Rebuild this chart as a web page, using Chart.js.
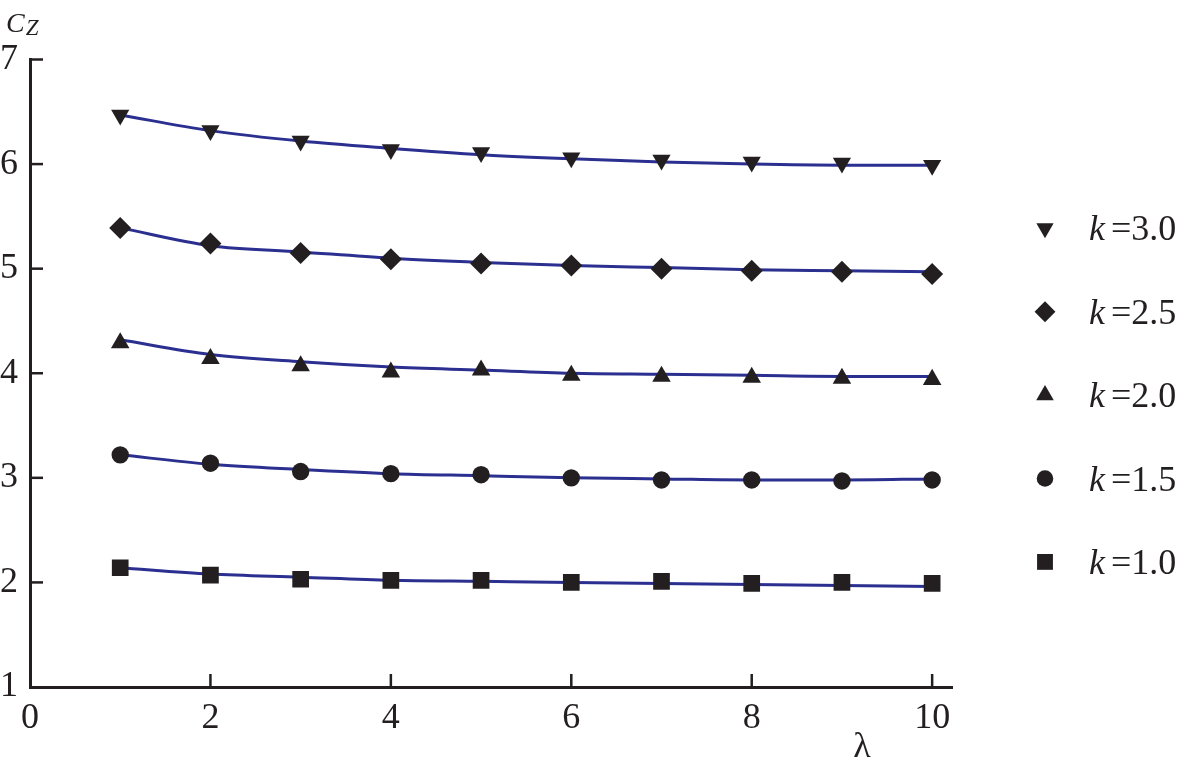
<!DOCTYPE html>
<html>
<head>
<meta charset="utf-8">
<script src="https://cdn.jsdelivr.net/npm/chart.js@4.4.0/dist/chart.umd.min.js"></script>
<style>
html,body{margin:0;padding:0;background:#fff;}
#wrap{position:relative;width:1190px;height:763px;}
</style>
</head>
<body>
<div id="wrap"><canvas id="c" width="1190" height="763"></canvas></div>
<script>
// ---- data ----
const lambdaValues = [1, 2, 3, 4, 5, 6, 7, 8, 9, 10];
const xTickValues = [0, 2, 4, 6, 8, 10];
const yTickValues = [1, 2, 3, 4, 5, 6, 7];
const kLabels = ['3.0', '2.5', '2.0', '1.5', '1.0'];

// measured markers
const k30Points = [6.47, 6.32, 6.22, 6.14, 6.11, 6.06, 6.04, 6.02, 6.01, 5.99];
const k25Points = [5.39, 5.24, 5.15, 5.09, 5.05, 5.03, 5.00, 4.98, 4.97, 4.95];
const k20Points = [4.29, 4.14, 4.07, 4.01, 4.03, 3.98, 3.97, 3.96, 3.95, 3.94];
const k15Points = [3.22, 3.14, 3.06, 3.04, 3.03, 3.00, 2.98, 2.98, 2.97, 2.98];
const k10Points = [2.14, 2.07, 2.03, 2.02, 2.02, 2.00, 2.01, 1.99, 2.00, 1.99];

// fitted curves (at each lambda)
const k30Curve = [6.47, 6.32, 6.22, 6.15, 6.09, 6.05, 6.02, 6.00, 5.99, 5.99];
const k25Curve = [5.39, 5.22, 5.16, 5.10, 5.06, 5.03, 5.01, 4.99, 4.98, 4.97];
const k20Curve = [4.32, 4.18, 4.11, 4.06, 4.03, 4.00, 3.99, 3.98, 3.97, 3.97];
const k15Curve = [3.22, 3.13, 3.08, 3.04, 3.02, 3.00, 2.99, 2.98, 2.98, 2.99];
const k10Curve = [2.14, 2.08, 2.05, 2.02, 2.01, 2.00, 1.99, 1.98, 1.97, 1.96];

// ---- styles ----
const INK = '#231f20';
const CURVE = '#2b2f8f';
const FONT = '"Liberation Serif"';
const markerStyles = ['triangle', 'rectRot', 'triangle', 'circle', 'rect'];
const markerRotations = [180, 0, 0, 0, 0];
const markerRadii = [10.5, 11, 10.7, 8.7, 11.8];

const pointsByK = [k30Points, k25Points, k20Points, k15Points, k10Points];
const curvesByK = [k30Curve, k25Curve, k20Curve, k15Curve, k10Curve];
const toXY = arr => arr.map((v, i) => ({ x: lambdaValues[i], y: v }));

const datasets = [];
kLabels.forEach((lab, i) => {
  datasets.push({
    type: 'scatter',
    label: 'k =' + lab,
    data: toXY(pointsByK[i]),
    showLine: false,
    pointStyle: markerStyles[i],
    pointRotation: markerRotations[i],
    pointRadius: markerRadii[i],
    pointHoverRadius: markerRadii[i],
    pointBackgroundColor: INK,
    pointBorderColor: INK,
    pointBorderWidth: 0,
    backgroundColor: INK,
    borderColor: INK,
    order: 0
  });
});
kLabels.forEach((lab, i) => {
  datasets.push({
    type: 'line',
    label: 'fit k =' + lab,
    data: toXY(curvesByK[i]),
    borderColor: CURVE,
    borderWidth: 3,
    pointRadius: 0,
    pointHoverRadius: 0,
    tension: 0.4,
    cubicInterpolationMode: 'monotone',
    fill: false,
    order: 1
  });
});

// inward tick marks
const tickMarks = {
  id: 'tickMarks',
  afterDraw(chart) {
    const { ctx, chartArea: a, scales: { x, y } } = chart;
    ctx.save();
    ctx.strokeStyle = INK;
    ctx.lineWidth = 2.5;
    xTickValues.forEach(v => {
      if (v === x.min) return;
      const px = x.getPixelForValue(v);
      ctx.beginPath(); ctx.moveTo(px, a.bottom); ctx.lineTo(px, a.bottom - 13); ctx.stroke();
    });
    yTickValues.forEach(v => {
      if (v === y.min) return;
      const py = y.getPixelForValue(v);
      ctx.beginPath(); ctx.moveTo(a.left, py); ctx.lineTo(a.left + 13, py); ctx.stroke();
    });
    ctx.restore();
  }
};

// axis titles
const axisTitles = {
  id: 'axisTitles',
  afterDraw(chart) {
    const ctx = chart.ctx;
    ctx.save();
    ctx.fillStyle = INK;
    ctx.textBaseline = 'alphabetic';
    ctx.textAlign = 'left';
    ctx.font = 'italic 28px ' + FONT;
    ctx.fillText('C', 6, 32);
    const cw = ctx.measureText('C').width;
    ctx.font = 'italic 23px ' + FONT;
    ctx.fillText('Z', 6 + cw + 1, 35);
    ctx.font = '36px ' + FONT;
    ctx.textAlign = 'center';
    ctx.fillText('λ', 862, 757);
    ctx.restore();
  }
};

// legend on the right
const customLegend = {
  id: 'customLegend',
  afterDraw(chart) {
    const ctx = chart.ctx;
    ctx.save();
    kLabels.forEach((lab, i) => {
      const rowY = 228.3 + i * 83.4;
      ctx.fillStyle = INK;
      Chart.helpers.drawPoint(ctx, {
        pointStyle: markerStyles[i],
        rotation: markerRotations[i],
        radius: markerRadii[i] * 0.95,
        borderWidth: 0
      }, 1045, rowY);
      ctx.textBaseline = 'alphabetic';
      ctx.textAlign = 'left';
      ctx.font = 'italic 36px ' + FONT;
      ctx.fillText('k', 1089, rowY + 12);
      ctx.font = '36px ' + FONT;
      ctx.fillText('=' + lab, 1111, rowY + 12);
    });
    ctx.restore();
  }
};

Chart.defaults.font.family = FONT;
Chart.defaults.color = INK;
new Chart(document.getElementById('c'), {
  type: 'scatter',
  data: { datasets },
  options: {
    responsive: false,
    animation: false,
    devicePixelRatio: 1,
    layout: { padding: { left: 0, top: 59.5, right: 238, bottom: 0 } },
    plugins: { legend: { display: false }, tooltip: { enabled: false } },
    scales: {
      x: {
        type: 'linear',
        min: 0,
        max: 10.22,
        afterBuildTicks: s => { s.ticks = xTickValues.map(v => ({ value: v })); },
        afterFit: s => { s.height = 76; },
        grid: { display: false, drawTicks: false },
        border: { display: true, color: INK, width: 3 },
        ticks: {
          color: INK,
          font: { family: FONT, size: 36 },
          padding: 10,
          autoSkip: false,
          maxRotation: 0,
          callback: v => String(v)
        }
      },
      y: {
        type: 'linear',
        min: 1,
        max: 7,
        afterBuildTicks: s => { s.ticks = yTickValues.map(v => ({ value: v })); },
        afterFit: s => { s.width = 30; },
        grid: { display: false, drawTicks: false },
        border: { display: true, color: INK, width: 3 },
        ticks: {
          color: INK,
          font: { family: FONT, size: 36 },
          padding: 12,
          autoSkip: false,
          callback: v => String(v)
        }
      }
    }
  },
  plugins: [tickMarks, axisTitles, customLegend]
});
</script>
</body>
</html>
